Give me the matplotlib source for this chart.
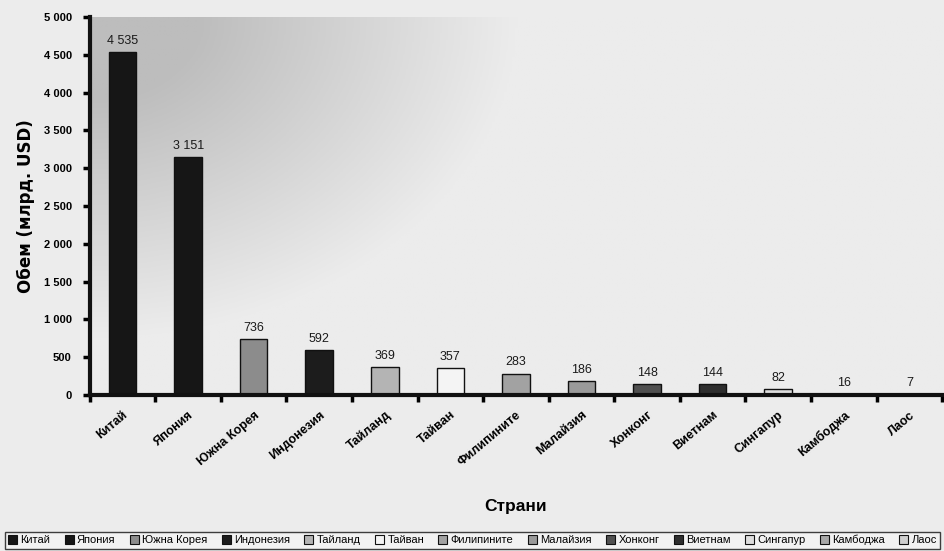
import numpy as np
import matplotlib
matplotlib.use("Agg")
import matplotlib.pyplot as plt
from matplotlib.patches import Patch
from matplotlib.colors import LinearSegmentedColormap

countries = ["Китай", "Япония", "Южна Корея", "Индонезия", "Тайланд", "Тайван",
             "Филипините", "Малайзия", "Хонконг", "Виетнам", "Сингапур",
             "Камбоджа", "Лаос"]
volumes = [4535, 3151, 736, 592, 369, 357, 283, 186, 148, 144, 82, 16, 7]
bar_colors = ["#161616", "#161616", "#8c8c8c", "#1c1c1c", "#b4b4b4", "#f4f4f4",
              "#a2a2a2", "#9a9a9a", "#505050", "#2e2e2e", "#dedede",
              "#a8a8a8", "#cfcfcf"]
y_ticks = [0, 500, 1000, 1500, 2000, 2500, 3000, 3500, 4000, 4500, 5000]

plt.rcParams['font.family'] = ['Liberation Sans Narrow', 'Liberation Sans', 'DejaVu Sans']


def fmt(v):
    return f"{v:,}".replace(",", " ")


fig = plt.figure(figsize=(9.45, 5.51), dpi=100, facecolor="#ececec")
ax = fig.add_axes([0.095, 0.283, 0.902, 0.686])

# grey shading in the top-left corner of the plot area
gx, gy = np.meshgrid(np.linspace(0, 1, 300), np.linspace(1, 0, 300))
dist = np.sqrt((gx / 0.5) ** 2 + ((1 - gy) / 0.85) ** 2)
shade = np.clip(1 - dist, 0, 1)
cmap = LinearSegmentedColormap.from_list("paper", ["#ececec", "#bdbdbd"])
ax.imshow(shade, extent=[0, 1, 0, 1], transform=ax.transAxes, cmap=cmap,
          vmin=0, vmax=0.75, aspect="auto", zorder=0)

x = np.arange(len(countries))
ax.bar(x, volumes, width=0.42, color=bar_colors, edgecolor="#111111",
       linewidth=1.0, zorder=2)
for xi, v in zip(x, volumes):
    ax.text(xi, v + 70, fmt(v), ha="center", va="bottom", fontsize=9,
            color="#1a1a1a", zorder=3)

ax.set_xlim(-0.5, len(countries) - 0.5)
ax.set_ylim(0, 5000)
ax.set_yticks(y_ticks)
ax.set_yticklabels([fmt(t) for t in y_ticks], fontsize=8, fontweight="bold")
ax.set_xticks(x)
ax.set_xticklabels(countries, rotation=40, ha="right", rotation_mode="anchor",
                   fontsize=9, fontweight="bold")
ax.set_xticks(np.arange(len(countries) + 1) - 0.5, minor=True)
ax.tick_params(axis="x", which="major", length=0, pad=10)
ax.tick_params(axis="x", which="minor", length=5, width=2.5, direction="out")
ax.tick_params(axis="y", length=5, width=2.5, direction="out", pad=8)

for side in ["top", "right"]:
    ax.spines[side].set_visible(False)
for side in ["left", "bottom"]:
    ax.spines[side].set_linewidth(3)
    ax.spines[side].set_color("#111111")

ax.set_ylabel("Обем (млрд. USD)", fontsize=12, fontweight="bold",
              family=["DejaVu Sans"], labelpad=6)
ax.set_xlabel("Страни", fontsize=12.5, fontweight="bold", labelpad=22)

handles = [Patch(facecolor=c, edgecolor="#111111", linewidth=0.8) for c in bar_colors]
leg = fig.legend(handles, countries, loc="lower center", bbox_to_anchor=(0.5, 0.002),
                 ncol=len(countries), fontsize=8, frameon=True, fancybox=False,
                 handlelength=0.8, handleheight=0.8, handletextpad=0.3,
                 columnspacing=1.3, borderpad=0.3, borderaxespad=0.1)
leg.get_frame().set_edgecolor("#111111")
leg.get_frame().set_linewidth(1.0)
leg.get_frame().set_facecolor("#f4f4f4")

fig.savefig("out.png", dpi=100, facecolor=fig.get_facecolor())
